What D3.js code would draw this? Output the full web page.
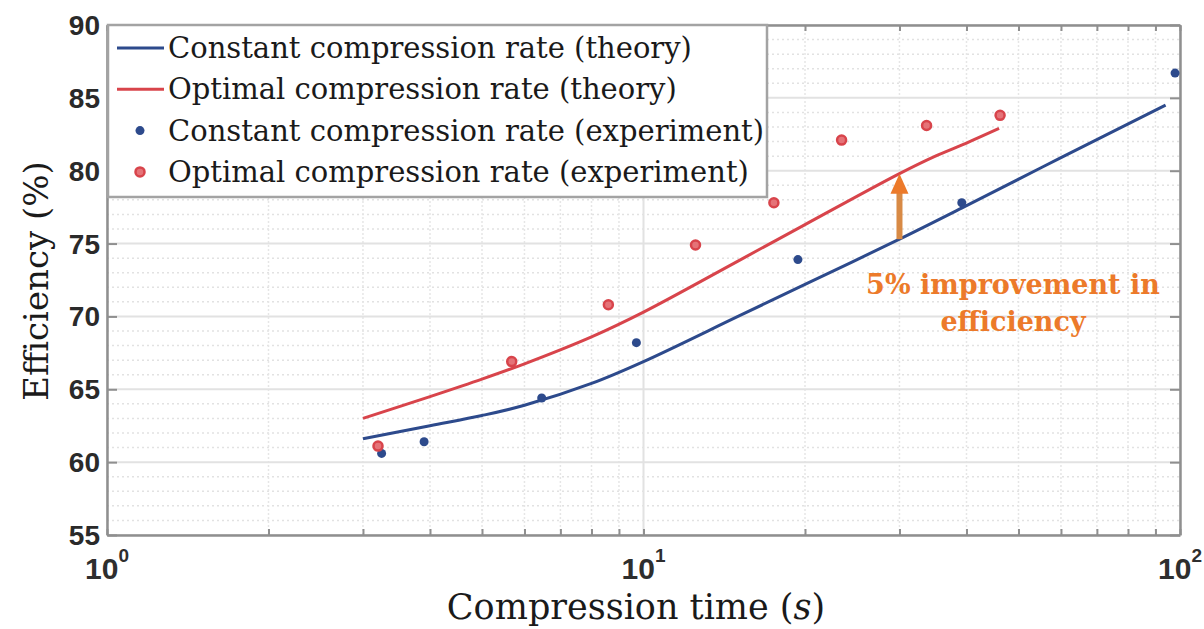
<!DOCTYPE html>
<html>
<head>
<meta charset="utf-8">
<script src="https://cdn.jsdelivr.net/npm/d3@7"></script>
<style>
  body { margin: 0; background: #fff; }
  svg { display: block; }
</style>
</head>
<body>
<div id="chart"></div>
<script>
// data
var xTicks = [1, 10, 100];
var xTickExp = ["0", "1", "2"];
var yTicks = [55, 60, 65, 70, 75, 80, 85, 90];

var blueTheoryX = [3, 4, 5, 6, 8, 10, 15, 20, 30, 40, 60, 94];
var blueTheoryY = [61.6, 62.5, 63.2, 63.9, 65.4, 66.9, 70.0, 72.2, 75.3, 77.6, 80.9, 84.5];

var redTheoryX = [3, 4, 5, 6, 8, 10, 15, 20, 30, 35, 40, 46];
var redTheoryY = [63.0, 64.5, 65.7, 66.75, 68.6, 70.3, 73.8, 76.3, 79.8, 81.0, 81.9, 82.9];

var blueExpX = [3.25, 3.9, 6.46, 9.7, 19.4, 39.2, 97.9];
var blueExpY = [60.6, 61.4, 64.4, 68.2, 73.9, 77.8, 86.7];

var redExpX = [3.2, 5.68, 8.6, 12.5, 17.5, 23.4, 33.7, 46.2];
var redExpY = [61.1, 66.9, 70.8, 74.9, 77.8, 82.1, 83.1, 83.8];

var legendLabels = [
  "Constant compression rate (theory)",
  "Optimal compression rate (theory)",
  "Constant compression rate (experiment)",
  "Optimal compression rate (experiment)"
];

var arrowX = 30, arrowFrom = 75.3, arrowTo = 79.8;

var blue = "#2d4a8c";
var red = "#d8444b";
var orange = "#ec7a2a";
var axisGrey = "#8f8f8f";

var width = 1204, height = 629;
var margin = { left: 107, right: 24, top: 25, bottom: 94 };

var svg = d3.select("#chart").append("svg")
  .attr("width", width)
  .attr("height", height);

var x = d3.scaleLog()
  .domain([1, 100])
  .range([margin.left, width - margin.right]);

var y = d3.scaleLinear()
  .domain([55, 90])
  .range([height - margin.bottom, margin.top]);

var x0 = x.range()[0], x1 = x.range()[1];
var y0 = y.range()[0], y1 = y.range()[1];

// minor values
var xMinor = [];
[1, 10].forEach(function(d) {
  for (var k = 2; k <= 9; k++) xMinor.push(d * k);
});
var yMinor = d3.range(56, 90).filter(function(v) { return v % 5 != 0; });

// grid
var grid = svg.append("g");
grid.selectAll(".ymin").data(yMinor).enter().append("line")
  .attr("x1", x0).attr("x2", x1)
  .attr("y1", function(d) { return y(d); })
  .attr("y2", function(d) { return y(d); })
  .attr("stroke", "#e2e2e2")
  .attr("stroke-width", 1.5)
  .attr("stroke-dasharray", "2,3");
grid.selectAll(".xmin").data(xMinor).enter().append("line")
  .attr("x1", function(d) { return x(d); })
  .attr("x2", function(d) { return x(d); })
  .attr("y1", y0).attr("y2", y1)
  .attr("stroke", "#e6e6e6")
  .attr("stroke-width", 1.5)
  .attr("stroke-dasharray", "2,2");
grid.selectAll(".ymaj").data(yTicks).enter().append("line")
  .attr("x1", x0).attr("x2", x1)
  .attr("y1", function(d) { return y(d); })
  .attr("y2", function(d) { return y(d); })
  .attr("stroke", "#e2e2e2")
  .attr("stroke-width", 2);
grid.selectAll(".xmaj").data(xTicks).enter().append("line")
  .attr("x1", function(d) { return x(d); })
  .attr("x2", function(d) { return x(d); })
  .attr("y1", y0).attr("y2", y1)
  .attr("stroke", "#e2e2e2")
  .attr("stroke-width", 2);

// axes (ticks inward, mirrored on top/right)
function styleAxis(g) {
  g.select(".domain").attr("stroke", axisGrey).attr("stroke-width", 2.5);
  g.selectAll(".tick line").attr("stroke", axisGrey).attr("stroke-width", 2);
  g.selectAll(".tick text").remove();
}

svg.append("g")
  .attr("transform", "translate(0," + y0 + ")")
  .call(d3.axisBottom(x).tickValues(xTicks.concat(xMinor)).tickSizeInner(-6).tickSizeOuter(0))
  .call(styleAxis);
svg.append("g")
  .attr("transform", "translate(0," + y1 + ")")
  .call(d3.axisTop(x).tickValues(xTicks.concat(xMinor)).tickSizeInner(-6).tickSizeOuter(0))
  .call(styleAxis);
svg.append("g")
  .attr("transform", "translate(" + x0 + ",0)")
  .call(d3.axisLeft(y).tickValues(yTicks).tickSizeInner(-10).tickSizeOuter(0))
  .call(styleAxis);
svg.append("g")
  .attr("transform", "translate(" + x1 + ",0)")
  .call(d3.axisRight(y).tickValues(yTicks).tickSizeInner(-10).tickSizeOuter(0))
  .call(styleAxis);

// tick labels
svg.selectAll(".ylab").data(yTicks).enter().append("text")
  .attr("x", x0 - 7)
  .attr("y", function(d) { return y(d) + 10; })
  .attr("text-anchor", "end")
  .attr("font-family", "Liberation Sans, Arial, sans-serif")
  .attr("font-weight", "bold")
  .attr("font-size", 28)
  .attr("fill", "#2a2a2a")
  .text(function(d) { return d; });

var xl = svg.selectAll(".xlab").data(xTicks).enter().append("text")
  .attr("x", function(d) { return x(d); })
  .attr("y", 579)
  .attr("text-anchor", "middle")
  .attr("font-family", "Liberation Sans, Arial, sans-serif")
  .attr("font-weight", "bold")
  .attr("font-size", 30)
  .attr("fill", "#2e2e2e");
xl.append("tspan").text("10");
xl.append("tspan")
  .attr("dy", -17)
  .attr("font-size", 19)
  .text(function(d, i) { return xTickExp[i]; });

// theory lines
var line = d3.line()
  .x(function(d) { return x(d[0]); })
  .y(function(d) { return y(d[1]); })
  .curve(d3.curveCatmullRom.alpha(0.5));

svg.append("path")
  .datum(d3.zip(blueTheoryX, blueTheoryY))
  .attr("d", line)
  .attr("fill", "none")
  .attr("stroke", blue)
  .attr("stroke-width", 3);

svg.append("path")
  .datum(d3.zip(redTheoryX, redTheoryY))
  .attr("d", line)
  .attr("fill", "none")
  .attr("stroke", red)
  .attr("stroke-width", 3);

// experiment points
svg.selectAll(".bdot").data(d3.zip(blueExpX, blueExpY)).enter().append("circle")
  .attr("cx", function(d) { return x(d[0]); })
  .attr("cy", function(d) { return y(d[1]); })
  .attr("r", 4.5)
  .attr("fill", blue);

svg.selectAll(".rdot").data(d3.zip(redExpX, redExpY)).enter().append("circle")
  .attr("cx", function(d) { return x(d[0]); })
  .attr("cy", function(d) { return y(d[1]); })
  .attr("r", 4.5)
  .attr("fill", "#e57378")
  .attr("stroke", red)
  .attr("stroke-width", 2.5);

// arrow
var ax = x(arrowX), ayB = y(arrowFrom), ayT = y(arrowTo);
svg.append("line")
  .attr("x1", ax).attr("x2", ax)
  .attr("y1", ayB).attr("y2", ayT + 16)
  .attr("stroke", "#d88a45")
  .attr("stroke-width", 6);
svg.append("path")
  .attr("d", "M" + (ax - 9) + "," + (ayT + 20) + "L" + ax + "," + ayT + "L" + (ax + 9) + "," + (ayT + 20) + "Z")
  .attr("fill", orange);

var note = svg.append("text")
  .attr("text-anchor", "middle")
  .attr("font-family", "DejaVu Serif, serif")
  .attr("font-weight", "bold")
  .attr("font-size", 27)
  .attr("fill", orange);
note.append("tspan").attr("x", 1013).attr("y", 294).text("5% improvement in");
note.append("tspan").attr("x", 1013).attr("y", 331).text("efficiency");

// legend
var leg = svg.append("g");
leg.append("rect")
  .attr("x", x0 + 1).attr("y", y1)
  .attr("width", 659).attr("height", 172)
  .attr("fill", "#fff")
  .attr("stroke", "#a3a3a3")
  .attr("stroke-width", 2.5);

var legRows = leg.selectAll(".row").data(legendLabels).enter().append("g")
  .attr("transform", function(d, i) { return "translate(0," + (48 + i * 41.3) + ")"; });

legRows.filter(function(d, i) { return i < 2; }).append("line")
  .attr("x1", 117).attr("x2", 164)
  .attr("y1", 0).attr("y2", 0)
  .attr("stroke", function(d, i) { return i == 0 ? blue : red; })
  .attr("stroke-width", 3);

legRows.filter(function(d, i) { return i == 2; }).append("circle")
  .attr("cx", 140).attr("cy", 0).attr("r", 4.5)
  .attr("fill", blue);
legRows.filter(function(d, i) { return i == 3; }).append("circle")
  .attr("cx", 140).attr("cy", 0).attr("r", 4.5)
  .attr("fill", "#e57378")
  .attr("stroke", red)
  .attr("stroke-width", 2.5);

legRows.append("text")
  .attr("x", 168)
  .attr("y", 10)
  .attr("font-family", "DejaVu Serif, serif")
  .attr("font-size", 29)
  .attr("fill", "#1a1a1a")
  .text(function(d) { return d; });

// axis titles
var xt = svg.append("text")
  .attr("x", 636)
  .attr("y", 619)
  .attr("text-anchor", "middle")
  .attr("font-family", "DejaVu Serif, serif")
  .attr("font-size", 35)
  .attr("fill", "#1a1a1a");
xt.append("tspan").text("Compression time (");
xt.append("tspan").attr("font-style", "italic").text("s");
xt.append("tspan").text(")");

svg.append("text")
  .attr("transform", "translate(48," + 281 + ") rotate(-90)")
  .attr("text-anchor", "middle")
  .attr("font-family", "DejaVu Serif, serif")
  .attr("font-size", 34)
  .attr("fill", "#1a1a1a")
  .text("Efficiency (%)");
</script>
</body>
</html>
